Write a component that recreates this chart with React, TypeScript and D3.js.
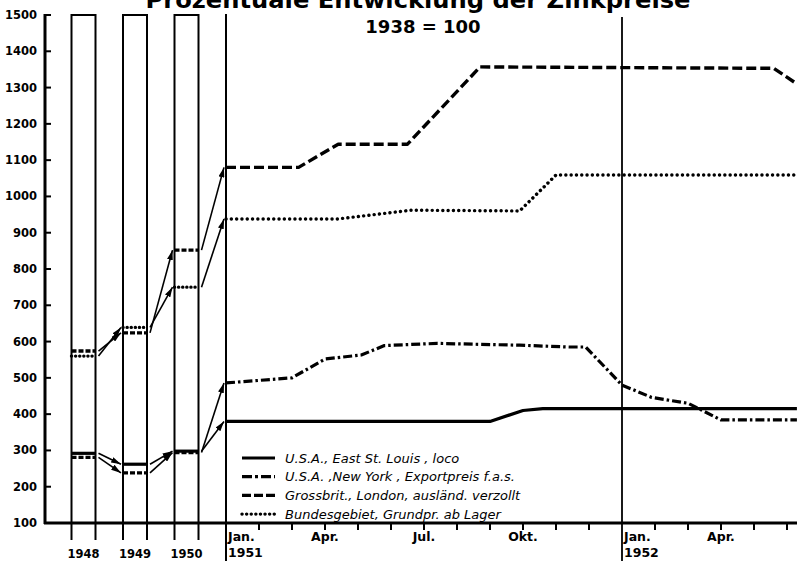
import React from "react";
import * as d3 from "d3";

// ---------- data ----------
const years = ["1948", "1949", "1950"];
// yearly values (1938 = 100)
const yearStLouis = [292, 262, 298];
const yearNewYork = [281, 238, 294];
const yearLondon = [574, 624, 852];
const yearBundes = [560, 639, 750];

// monthly series: [months since Jan 1951, value]
const stLouis: [number, number][] = [[0, 380], [8, 380], [9, 410], [9.6, 415], [17.3, 415]];
const newYork: [number, number][] = [
  [0, 486], [2, 500], [3, 552], [4.1, 563], [4.8, 589], [6.4, 595], [8.9, 590],
  [10.4, 585], [10.9, 585], [12, 480], [12.9, 446], [14, 430], [15, 384], [17.3, 384],
];
const london: [number, number][] = [[0, 1080], [2.2, 1080], [3.4, 1144], [5.5, 1144], [7.7, 1357], [16.6, 1353], [17.3, 1310]];
const bundes: [number, number][] = [[0, 938], [3.4, 938], [5.6, 962], [8.9, 960], [10, 1059], [17.3, 1059]];

const yTicks = [100, 200, 300, 400, 500, 600, 700, 800, 900, 1000, 1100, 1200, 1300, 1400, 1500];
const monthLabels: [number, string, string][] = [
  [0, "Jan.", "1951"], [3, "Apr.", ""], [6, "Jul.", ""], [9, "Okt.", ""], [12, "Jan.", "1952"], [15, "Apr.", ""],
];
const legendLabels = [
  "U.S.A., East St. Louis , loco",
  "U.S.A. ,New York , Exportpreis  f.a.s.",
  "Grossbrit., London, ausländ. verzollt",
  "Bundesgebiet, Grundpr. ab Lager",
];

const styles = [
  { dash: "none", w: 3.2, cap: "butt" },
  { dash: "9,3,2.5,3", w: 3.2, cap: "butt" },
  { dash: "10,4", w: 3.4, cap: "butt" },
  { dash: "0.1,5.2", w: 3.4, cap: "round" },
];

export default function App() {
  const W = 797, H = 561;
  const y = d3.scaleLinear().domain([100, 1500]).range([523, 15]);
  const x = d3.scaleLinear().domain([0, 12]).range([226, 622]);
  const xb = d3.scalePoint<string>().domain(years).range([83.5, 186.5]);
  const bw = 12;
  const line = d3.line<[number, number]>().x((d) => x(d[0])).y((d) => y(d[1]));

  const monthly = [stLouis, newYork, london, bundes];
  const yearly = [yearStLouis, yearNewYork, yearLondon, yearBundes];
  const font = "'DejaVu Sans', sans-serif";

  const arrows: { x1: number; y1: number; x2: number; y2: number }[] = [];
  yearly.forEach((vals, si) => {
    vals.forEach((v, i) => {
      const x1 = (xb(years[i]) as number) + bw + 3;
      let x2: number, v2: number;
      if (i < vals.length - 1) {
        x2 = (xb(years[i + 1]) as number) - bw - 2;
        v2 = vals[i + 1];
      } else {
        x2 = x(0) - 2;
        v2 = monthly[si][0][1];
      }
      arrows.push({ x1, y1: y(v), x2, y2: y(v2) });
    });
  });

  return (
    <svg width={W} height={H} style={{ position: "absolute", left: 0, top: 0, background: "#fff" }}>
      <defs>
        <marker id="ah" viewBox="0 0 10 6" refX="10" refY="3" markerWidth="10" markerHeight="6" markerUnits="userSpaceOnUse" orient="auto">
          <path d="M0,0 L10,3 L0,6 z" fill="#000" />
        </marker>
      </defs>
      {/* title */}
      <text x={418} y={8} textAnchor="middle" fontFamily={font} fontWeight="bold" fontSize={23} textLength={545} lengthAdjust="spacingAndGlyphs">
        Prozentuale Entwicklung der Zinkpreise
      </text>
      <text x={423} y={33} textAnchor="middle" fontFamily={font} fontWeight="bold" fontSize={18}>
        1938 = 100
      </text>

      {/* y axis */}
      <line x1={45} x2={45} y1={14} y2={524} stroke="#000" strokeWidth={3} />
      {yTicks.map((t) => (
        <g key={t}>
          <line x1={45} x2={51} y1={y(t)} y2={y(t)} stroke="#000" strokeWidth={2} />
          <text x={37} y={y(t)} dy="0.35em" textAnchor="end" fontFamily={font} fontWeight="bold" fontSize={11.5}>
            {t}
          </text>
        </g>
      ))}
      {/* x axis */}
      <line x1={44} x2={W} y1={523} y2={523} stroke="#000" strokeWidth={3} />
      {d3.range(1, 18).filter((m) => m !== 12).map((m) => (
        <line key={m} x1={x(m)} x2={x(m)} y1={523} y2={530} stroke="#000" strokeWidth={2} />
      ))}
      {/* vertical reference lines */}
      <line x1={x(0)} x2={x(0)} y1={14} y2={H} stroke="#000" strokeWidth={2} />
      <line x1={x(12)} x2={x(12)} y1={17} y2={H} stroke="#000" strokeWidth={1.8} />

      {/* year boxes */}
      {years.map((yr) => {
        const cx = xb(yr) as number;
        return (
          <g key={yr}>
            <path d={`M${cx - bw},540 L${cx - bw},${y(1500)} L${cx + bw},${y(1500)} L${cx + bw},540`} fill="none" stroke="#000" strokeWidth={2} />
            <text x={cx} y={558} textAnchor="middle" fontFamily={font} fontWeight="bold" fontSize={13} textLength={32} lengthAdjust="spacingAndGlyphs">
              {yr}
            </text>
          </g>
        );
      })}
      {yearly.map((vals, si) =>
        vals.map((v, i) => {
          const cx = xb(years[i]) as number;
          return (
            <line key={`${si}-${i}`} x1={cx - bw} x2={cx + bw} y1={y(v)} y2={y(v)} stroke="#000"
              strokeWidth={styles[si].w} strokeDasharray={styles[si].dash === "none" ? undefined : si === 3 ? "0.1,4" : "5,2"}
              strokeLinecap={styles[si].cap as any} />
          );
        })
      )}
      {arrows.map((a, i) => (
        <line key={i} x1={a.x1} y1={a.y1} x2={a.x2} y2={a.y2} stroke="#000" strokeWidth={1.6} markerEnd="url(#ah)" />
      ))}

      {/* monthly lines */}
      {monthly.map((s, si) => (
        <path key={si} d={line(s) as string} fill="none" stroke="#000" strokeWidth={styles[si].w}
          strokeDasharray={styles[si].dash === "none" ? undefined : styles[si].dash}
          strokeLinecap={styles[si].cap as any} strokeLinejoin="round" />
      ))}

      {/* month labels */}
      {monthLabels.map(([m, lab, yr]) => {
        const left = m === 0 || m === 12;
        const xx = left ? x(m) + 2 : x(m);
        return (
          <g key={m}>
            <text x={xx} y={541} textAnchor={left ? "start" : "middle"} fontFamily={font} fontWeight="bold" fontSize={12.5}>
              {lab}
            </text>
            {yr && (
              <text x={xx} y={557} textAnchor="start" fontFamily={font} fontWeight="bold" fontSize={12.5}>
                {yr}
              </text>
            )}
          </g>
        );
      })}

      {/* legend */}
      {legendLabels.map((lab, i) => {
        const ly = 458 + i * 18.7;
        return (
          <g key={i}>
            <line x1={242} x2={275} y1={ly} y2={ly} stroke="#000" strokeWidth={styles[i].w}
              strokeDasharray={styles[i].dash === "none" ? undefined : i === 1 ? "10,3,3,3" : i === 2 ? "9,3" : "0.1,4.5"}
              strokeLinecap={styles[i].cap as any} />
            <text x={285} y={ly} dy="0.35em" fontFamily={font} fontStyle="italic" fontSize={13}>
              {lab}
            </text>
          </g>
        );
      })}
    </svg>
  );
}
